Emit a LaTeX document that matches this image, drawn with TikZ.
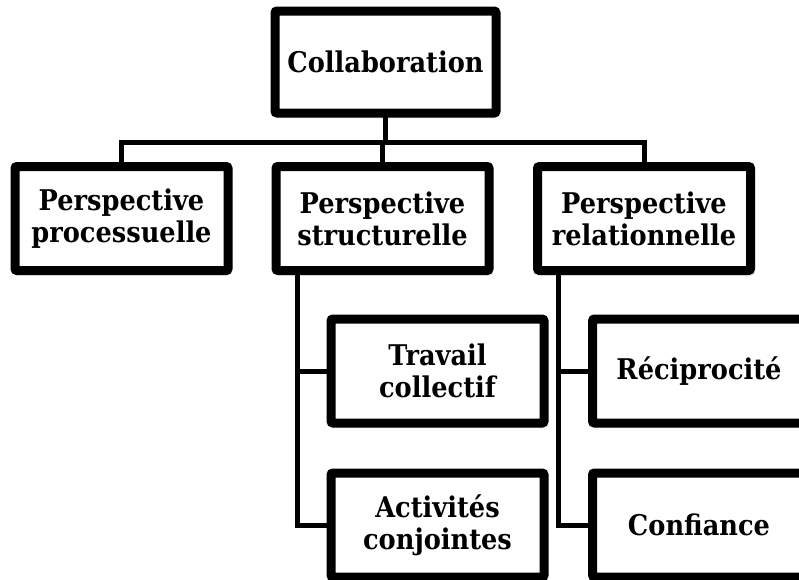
\documentclass[tikz,border=0pt]{standalone}
\usepackage{fontspec}
\setmainfont{DejaVu Serif}[FakeStretch=0.9]
\usetikzlibrary{shadows.blur}

\tikzset{
  box/.style={draw=black, line width=9pt, fill=white, rounded corners=2pt,
    minimum width=213pt, minimum height=104pt, inner sep=0pt, align=center,
    font=\fontsize{28.5}{32}\selectfont\bfseries,
    blur shadow={shadow xshift=2pt, shadow yshift=-3pt, shadow blur radius=3pt, shadow opacity=35}},
  link/.style={draw=black, line width=5pt, line cap=rect}
}

\begin{document}
\begin{tikzpicture}[x=1pt, y=-1pt]
  \useasboundingbox (0,0) rectangle (799,579);

  % top node and the three perspectives
  \node[box, minimum width=221pt, minimum height=102pt] (collab) at (385.5,62) {Collaboration};
  \node[box] (proc)   at (121.5,218.5) {Perspective\\processuelle};
  \node[box] (struct) at (382.5,218.5) {Perspective\\structurelle};
  \node[box] (rel)    at (644,218.5)   {Perspective\\relationnelle};

  % sub-dimensions
  \node[box] (trav) at (437.5,371) {Travail\\collectif};
  \node[box] (act)  at (437.5,525) {Activités\\conjointes};
  \node[box] (reci) at (699,371)   {Réciprocité};
  \node[box] (conf) at (699,525)   {Confiance};

  % horizontal bus under the top node
  \coordinate (bus) at (0,142);
  \draw[link] (collab.south) -- (collab.south |- bus);
  \draw[link] (proc.north) |- (rel.north |- bus) -- (rel.north);
  \draw[link] (struct.north |- bus) -- (struct.north);

  % spines down the left side of the lower boxes
  \coordinate (sl) at ([xshift=-85.5pt]struct.south);
  \coordinate (sr) at ([xshift=-86pt]rel.south);
  \draw[link] (sl) |- (act.west);
  \draw[link] (sl |- trav.west) -- (trav.west);
  \draw[link] (sr) |- (conf.west);
  \draw[link] (sr |- reci.west) -- (reci.west);
\end{tikzpicture}
\end{document}
